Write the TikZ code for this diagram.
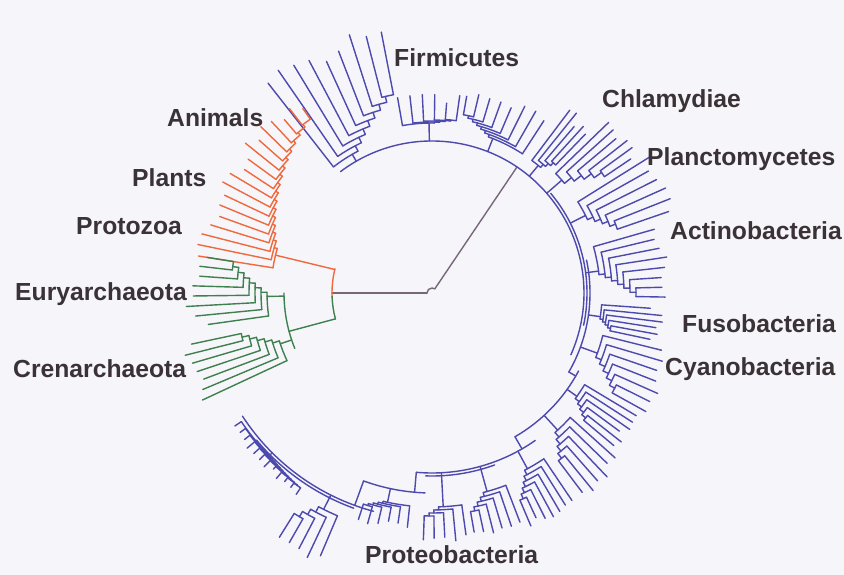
\documentclass[tikz,border=0pt]{standalone}
\usepackage{fontspec}
\setmainfont{Liberation Sans}
\definecolor{bg}{RGB}{246,245,250}
\definecolor{bact}{RGB}{76,74,172}
\definecolor{euk}{RGB}{240,105,60}
\definecolor{arch}{RGB}{62,128,78}
\definecolor{rootc}{RGB}{118,104,122}
\definecolor{txt}{RGB}{58,50,54}
\tikzset{
  lab/.style={text=txt, font=\fontsize{24.7}{28}\selectfont\bfseries, inner sep=0pt, anchor=base west},
  br/.style={line width=1.4pt, line cap=round, line join=round},
}
% comb: #1 first angle, #2 last angle, #3 leaves, #4 base radius, #5 first node radius,
%       #6 radius step, #7 tip radius, #8 tip jitter, #9 node bias
\newcommand{\comb}[9]{%
  \pgfmathsetmacro{\cA}{#1}%
  \pgfmathsetmacro{\cB}{#2}%
  \pgfmathtruncatemacro{\cN}{#3}%
  \pgfmathsetmacro{\cS}{(\cB-\cA)/(\cN-1)}%
  \pgfmathsetmacro{\cF}{#9}%
  \pgfmathsetmacro{\cC}{\cA+\cF*(\cB-\cA)}%
  \draw (\cC:#4) -- (\cC:#5);%
  \pgfmathtruncatemacro{\cM}{\cN-2}%
  \foreach \k in {0,...,\cM}{%
    \pgfmathsetmacro{\ak}{\cA+\k*\cS}%
    \pgfmathsetmacro{\rk}{#5+\k*(#6)}%
    \pgfmathsetmacro{\rn}{#5+(\k+1)*(#6)}%
    \pgfmathsetmacro{\an}{\cA+(\k+1)*\cS}%
    \pgfmathsetmacro{\cn}{\an+\cF*(\cB-\an)}%
    \pgfmathsetmacro{\tk}{#7+(#8)*rand}%
    \draw (\ak:\rk) arc[start angle=\ak, end angle=\cn, radius=\rk];%
    \draw (\ak:\rk) -- (\ak:\tk);%
    \ifnum\k<\cM\relax
      \draw (\cn:\rk) -- (\cn:\rn);%
    \else
      \pgfmathsetmacro{\tn}{#7+(#8)*rand}%
      \draw (\cn:\rk) -- (\cn:\tn);%
    \fi
  }%
}
\newcommand{\bow}[3]{\draw (#1:#3) arc[start angle=#1, end angle=#2, radius=#3];}
\newcommand{\spoke}[3]{\draw (#1:#2) -- (#1:#3);}
\begin{document}
\begin{tikzpicture}[x=1pt,y=-1pt]
\path[use as bounding box, fill=bg] (0,0) rectangle (844,575);
\pgfmathsetseed{4242}
\begin{scope}[shift={(432,293)}, br]
  % root
  \begin{scope}[rootc]
    \bow{180}{304}{5}
    \spoke{180}{5}{100}
    \spoke{304}{5}{152}
  \end{scope}
  % ---------- bacteria ----------
  \begin{scope}[bact]
    \bow{-127}{24}{152}
    \bow{-40}{12}{155}
    \bow{-12}{30}{158}
    \spoke{30}{158}{166}
    \bow{28}{60}{166}
    \spoke{60}{166}{180}
    \bow{55}{95}{180}
    \bow{70}{92}{183}
    \spoke{95}{180}{200}
    \bow{92}{110}{200}
    \spoke{110}{200}{226}
    \bow{105}{147}{226}
    \bow{110}{140}{229}
    % Firmicutes
    \comb{-128}{-101}{9}{152}{160}{6}{262}{14}{0.3}
    \comb{-100}{-82}{6}{152}{170}{1}{196}{6}{0.5}
    \comb{-57}{-80}{8}{152}{166}{2.5}{206}{7}{0.5}
    % Chlamydiae
    \comb{-53}{-46}{5}{152}{166}{4}{224}{7}{0.4}
    \comb{-44}{-34}{6}{152}{172}{9}{244}{5}{0.3}
    % Planctomycetes
    \comb{-32}{-19}{6}{155}{172}{6}{250}{8}{0.4}
    % Actinobacteria
    \comb{-16}{1}{8}{155}{168}{6}{234}{6}{0.5}
    % Fusobacteria
    \comb{4}{12}{6}{158}{170}{3}{226}{8}{0.5}
    % Cyanobacteria
    \comb{14}{29}{7}{158}{176}{6}{242}{6}{0.4}
    % Proteobacteria
    \comb{31}{40}{6}{166}{178}{5}{235}{6}{0.5}
    \comb{42}{53}{6}{166}{186}{6}{250}{6}{0.5}
    \comb{56}{67}{7}{180}{200}{5}{250}{5}{0.5}
    \comb{69}{80}{6}{180}{206}{4}{245}{6}{0.5}
    \comb{82}{92}{5}{180}{214}{3}{246}{4}{0.5}
    \comb{96}{108}{6}{200}{214}{2}{236}{4}{0.5}
    \comb{113}{122}{5}{226}{242}{6}{290}{5}{0.4}
    \comb{146}{124}{12}{226}{230}{0.5}{240}{3}{0.5}
  \end{scope}
  % ---------- eukaryotes ----------
  \begin{scope}[euk]
    \bow{178}{194}{100}
    \comb{189}{235}{18}{100}{161}{3.2}{232}{8}{0.1}
  \end{scope}
  % ---------- archaea ----------
  \begin{scope}[arch]
    \bow{165}{178}{100}
    \spoke{165}{100}{148}
    \bow{158}{180}{148}
    \comb{172}{189}{8}{148}{165}{6}{236}{12}{0.4}
    \comb{155}{168}{7}{148}{160}{7}{250}{6}{0.5}
  \end{scope}
\end{scope}
% ---------- labels ----------
\node[lab] (firm) at (394,67) {Firmicutes};
\node[lab] (chla) at (602,108) {Chlamydiae};
\node[lab] (plan) at (647,166) {Planctomycetes};
\node[lab] (acti) at (670,240) {Actinobacteria};
\node[lab] (fuso) at (682,332) {Fusobacteria};
\node[lab] (cyan) at (665,375) {Cyanobacteria};
\node[lab] (prot) at (365,563) {Proteobacteria};
\node[lab] (anim) at (167,127) {Animals};
\node[lab] (plnt) at (132,187) {Plants};
\node[lab] (prtz) at (76,234) {Protozoa};
\node[lab] (eury) at (15,300) {Euryarchaeota};
\node[lab] (cren) at (13,377) {Crenarchaeota};
\end{tikzpicture}
\end{document}
